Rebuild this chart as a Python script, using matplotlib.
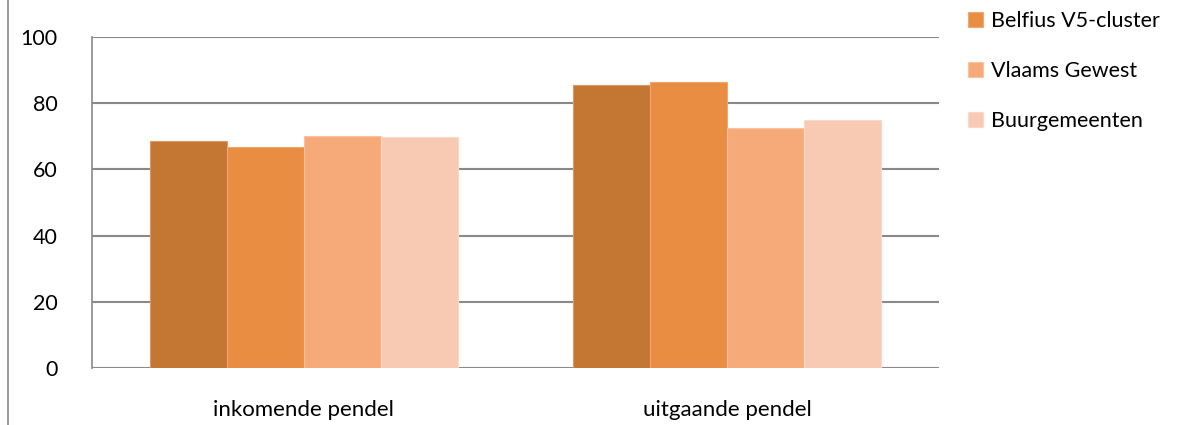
import matplotlib
matplotlib.use('Agg')
import matplotlib.pyplot as plt
import numpy as np
from matplotlib.lines import Line2D

plt.rcParams['font.family'] = ['Lato', 'DejaVu Sans']

categories = ['inkomende pendel', 'uitgaande pendel']
series_names = ['Gemeente', 'Belfius V5-cluster', 'Vlaams Gewest', 'Buurgemeenten']
gemeente = [68.6, 85.5]
belfius = [66.7, 86.4]
vlaams = [70.1, 72.6]
buur = [69.7, 74.9]
yticks = [0, 20, 40, 60, 80, 100]

colors = ['#C47733', '#E88D42', '#F7AA79', '#F8CAB3']
edges = ['#D99A66', '#F0A86E', '#FBC29E', '#FBD9C8']

fig = plt.figure(figsize=(11.81, 4.25), dpi=100)
ax = fig.add_axes([92 / 1181, 1 - 368 / 425, (939 - 92) / 1181, (368 - 37) / 425])

x = np.arange(len(categories))
w = 77 / 423.5
bars = []
for i, (vals, c, ec) in enumerate(zip([gemeente, belfius, vlaams, buur], colors, edges)):
    b = ax.bar(x + (i - 1.5) * w, vals, w, color=c, edgecolor=ec, linewidth=0.8,
               label=series_names[i], zorder=3)
    bars.append(b)

ax.set_xlim(-0.5, 1.5)
ax.set_ylim(0, 100)
ax.set_yticks(yticks)
ax.set_xticks(x)
ax.set_xticklabels(categories)
ax.grid(axis='y', color='#898989', linewidth=1.5, zorder=0)
for s in ['top', 'right', 'bottom']:
    ax.spines[s].set_visible(False)
ax.spines['left'].set_color('#898989')
ax.spines['left'].set_linewidth(1.2)
ax.tick_params(axis='y', length=0, labelsize=15.5, colors='black', pad=25)
ax.tick_params(axis='x', length=0, labelsize=16, colors='black', pad=23)

# outer frame line on the left
fig.add_artist(Line2D([8 / 1181, 8 / 1181], [0, 1], color='#898989', linewidth=1.2))

fig.legend(handles=bars[1:], labels=series_names[1:], loc='upper left',
           bbox_to_anchor=(949 / 1181, 1 + 8 / 425), frameon=False, fontsize=15.5,
           handlelength=0.7, handleheight=0.7, handletextpad=0.35, labelspacing=1.38)

fig.savefig('out.png', dpi=100, facecolor='white')
